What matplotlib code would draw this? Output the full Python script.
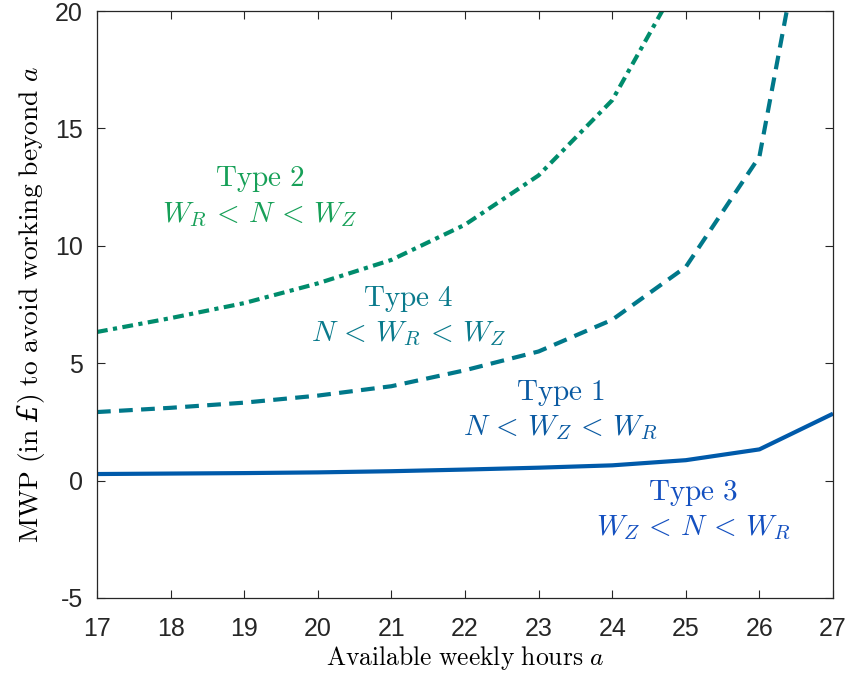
import matplotlib
matplotlib.use("Agg")
import matplotlib.pyplot as plt

plt.rcParams['mathtext.fontset'] = 'cm'
plt.rcParams['font.family'] = ['Liberation Sans', 'DejaVu Sans']
plt.rcParams['axes.unicode_minus'] = False
plt.rcParams['mathtext.rm'] = 'cmr10'
plt.rcParams['mathtext.it'] = 'cmmi10'
plt.rcParams['mathtext.bf'] = 'DejaVu Serif:italic'

hours = [17, 18, 19, 20, 21, 22, 23, 24, 25, 26, 27]
type1 = [0.28, 0.30, 0.32, 0.35, 0.40, 0.47, 0.55, 0.65, 0.87, 1.33, 2.85]
type4 = [2.92, 3.10, 3.32, 3.62, 4.02, 4.70, 5.50, 6.85, 9.10, 13.80, 30.5]
type2 = [6.33, 6.92, 7.56, 8.40, 9.40, 10.90, 13.00, 16.20, 21.8, 30.0, 45.0]

labels = [
    (19.21, 12.1, "$\\mathrm{Type\\ 2}$\n$W_R\\,<\\,N\\,<\\,W_Z$", '#17a058'),
    (21.23, 7.0, "$\\mathrm{Type\\ 4}$\n$N\\,<\\,W_R\\,<\\,W_Z$", '#0a7a8c'),
    (23.29, 3.0, "$\\mathrm{Type\\ 1}$\n$N\\,<\\,W_Z\\,<\\,W_R$", '#0a5aa2'),
    (25.10, -1.25, "$\\mathrm{Type\\ 3}$\n$W_Z\\,<\\,N\\,<\\,W_R$", '#1450c0'),
]

fig = plt.figure(figsize=(8.47, 6.77), dpi=100)
ax = fig.add_axes([0.1145, 0.1167, 0.869, 0.867])

ax.plot(hours, type1, color='#005aaa', lw=3, solid_capstyle='butt')
ax.plot(hours, type4, color='#00788a', lw=3, dashes=(3.3, 2.0))
ax.plot(hours, type2, color='#008c6c', lw=3, dashes=(2.6, 1.3, 1.0, 1.3))

for x, y, s, c in labels:
    ax.text(x, y, s, color=c, fontsize=21, ha='center', va='center', linespacing=1.25)

ax.set_xlim(17, 27)
ax.set_ylim(-5, 20)
ax.set_xticks(range(17, 28))
ax.set_yticks([-5, 0, 5, 10, 15, 20])
ax.tick_params(direction='in', top=True, right=True, labelsize=18, length=6,
               color='#262626', labelcolor='#262626', width=0.8)
ax.tick_params(axis='x', pad=14)
ax.tick_params(axis='y', pad=10)
for sp in ax.spines.values():
    sp.set_color('#262626')
    sp.set_linewidth(0.9)

ax.set_xlabel("$\\mathrm{Available\\ weekly\\ hours\\ }a$", fontsize=18.4, labelpad=2)
ax.set_ylabel("$\\mathrm{MWP\\ (in\\ }\\mathbf{£}\\mathrm{)\\ to\\ avoid\\ working\\ beyond\\ }\\mathit{a}$",
              fontsize=19.8, labelpad=6, math_fontfamily='custom')

fig.savefig("out.png", dpi=100)
